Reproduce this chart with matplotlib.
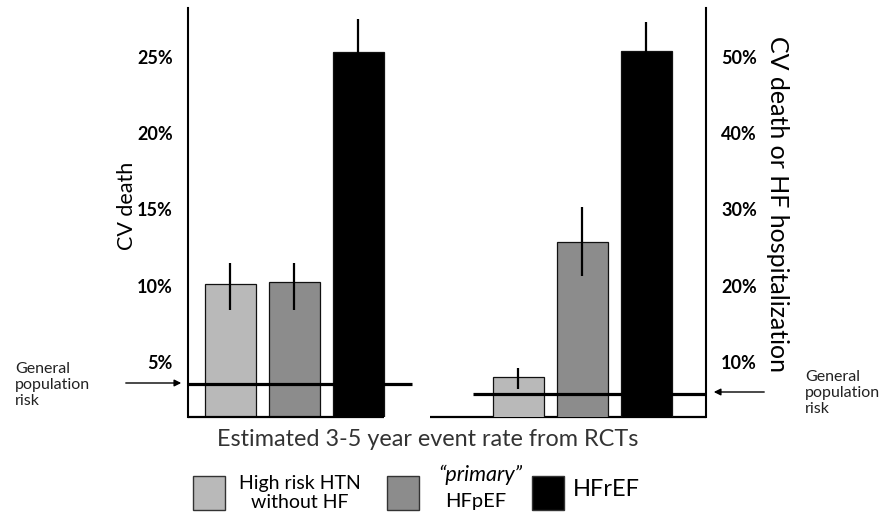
import matplotlib.pyplot as plt
from matplotlib.patches import Rectangle

# Values (percent)
groups = ["High risk HTN\nwithout HF", "\u201cprimary\u201d\nHFpEF", "HFrEF"]
bar_colors = ["#b9b9b9", "#8c8c8c", "#000000"]

# left panel: CV death
cv_death = [10.1, 10.2, 25.3]
cv_death_lo = [8.4, 8.4, 23.1]
cv_death_hi = [11.45, 11.45, 27.5]

# right panel: CV death or HF hospitalization
cv_hf = [8.0, 25.7, 50.8]
cv_hf_lo = [6.4, 21.3, 46.6]
cv_hf_hi = [9.2, 30.3, 54.6]

pop_risk_left = 3.55
pop_risk_right = 5.8

left_ticks = [5, 10, 15, 20, 25]
right_ticks = [10, 20, 30, 40, 50]

plt.rcParams['font.family'] = ['Lato', 'DejaVu Sans']

W, H = 885, 519
fig = plt.figure(figsize=(W / 100, H / 100), dpi=100)


def fx(px):
    return px / W


def fy(py):
    return 1 - py / H


ax = fig.add_axes([fx(188), fy(417), fx(706) - fx(188), fy(8) - fy(417)])
ax2 = ax.twinx()

x_left = [0, 1, 2]
x_right = [4.5, 5.5, 6.5]
width = 0.8
xmin, xmax = -0.66, 7.43

ax.set_xlim(xmin, xmax)
ax.set_ylim(1.38, 28.2)
ax2.set_ylim(2.76, 56.4)

# bars with error bars
for xs, vals, lo, hi, a in [(x_left, cv_death, cv_death_lo, cv_death_hi, ax),
                            (x_right, cv_hf, cv_hf_lo, cv_hf_hi, ax2)]:
    a.bar(xs, vals, width=width, color=bar_colors, edgecolor="#111111",
          linewidth=0.9, zorder=2)
    err = [[v - l for v, l in zip(vals, lo)], [h - v for v, h in zip(vals, hi)]]
    a.errorbar(xs, vals, yerr=err, fmt="none", ecolor="black", elinewidth=1.6,
               capsize=0, zorder=4)

# general population risk lines
ax.hlines(pop_risk_left, xmin, 2.84, color="black", linewidth=2.3, zorder=3)
ax2.hlines(pop_risk_right, 3.79, xmax, color="black", linewidth=2.3, zorder=3)

# bottom line (with a small break between the panels)
ax.hlines(1.38, xmin, 2.40, color="black", linewidth=1.6, clip_on=False, zorder=5)
ax.hlines(1.38, 3.12, xmax, color="black", linewidth=1.6, clip_on=False, zorder=5)

for a in (ax, ax2):
    a.spines['top'].set_visible(False)
    a.spines['bottom'].set_visible(False)
    a.set_xticks([])
    a.tick_params(axis='y', length=0, pad=11, labelsize=13)
ax.spines['right'].set_visible(False)
ax.spines['left'].set_linewidth(1.5)
ax2.spines['left'].set_visible(False)
ax2.spines['right'].set_linewidth(1.5)

ax.set_yticks(left_ticks)
ax.set_yticklabels([f"{t}%" for t in left_ticks], fontweight='bold')
ax2.set_yticks(right_ticks)
ax2.set_yticklabels([f"{t}%" for t in right_ticks], fontweight='bold')

# axis titles
fig.text(fx(127), fy(206), "CV death", rotation=90, ha='center', va='center',
         fontsize=15.5)
fig.text(fx(777), fy(204), "CV death or HF hospitalization", rotation=-90,
         ha='center', va='center', fontsize=18)
fig.text(fx(428), fy(440), "Estimated 3-5 year event rate from RCTs",
         ha='center', va='center', fontsize=16.8, color="#333333")

# general population annotations
fig.text(fx(15), fy(385), "General\npopulation\nrisk", ha='left', va='center',
         fontsize=11.5, color="#222222", linespacing=1.15)
fig.text(fx(805), fy(393), "General\npopulation\nrisk", ha='left', va='center',
         fontsize=11.5, color="#222222", linespacing=1.15)
fig.add_artist(plt.Annotation("", xy=(fx(184), fy(383)), xytext=(fx(123), fy(383)),
                              xycoords='figure fraction', textcoords='figure fraction',
                              arrowprops=dict(arrowstyle='-|>', color='black', lw=1,
                                              mutation_scale=10)))
fig.add_artist(plt.Annotation("", xy=(fx(711), fy(392)), xytext=(fx(767), fy(392)),
                              xycoords='figure fraction', textcoords='figure fraction',
                              arrowprops=dict(arrowstyle='-|>', color='black', lw=1,
                                              mutation_scale=10)))

# legend
for x0, c in zip([193, 387, 532], bar_colors):
    fig.add_artist(Rectangle((fx(x0), fy(510)), fx(32), fy(476) - fy(510),
                             transform=fig.transFigure, facecolor=c,
                             edgecolor="#333333", linewidth=1))
fig.text(fx(300), fy(484), "High risk HTN", ha='center', va='center', fontsize=14)
fig.text(fx(300), fy(503), "without HF", ha='center', va='center', fontsize=14)
fig.text(fx(480), fy(475), "\u201cprimary\u201d", ha='center', va='center',
         fontsize=15.5, style='italic')
fig.text(fx(476), fy(502), "HFpEF", ha='center', va='center', fontsize=14.5)
fig.text(fx(573), fy(490), "HFrEF", ha='left', va='center', fontsize=17)

fig.savefig("out.png", dpi=100)
